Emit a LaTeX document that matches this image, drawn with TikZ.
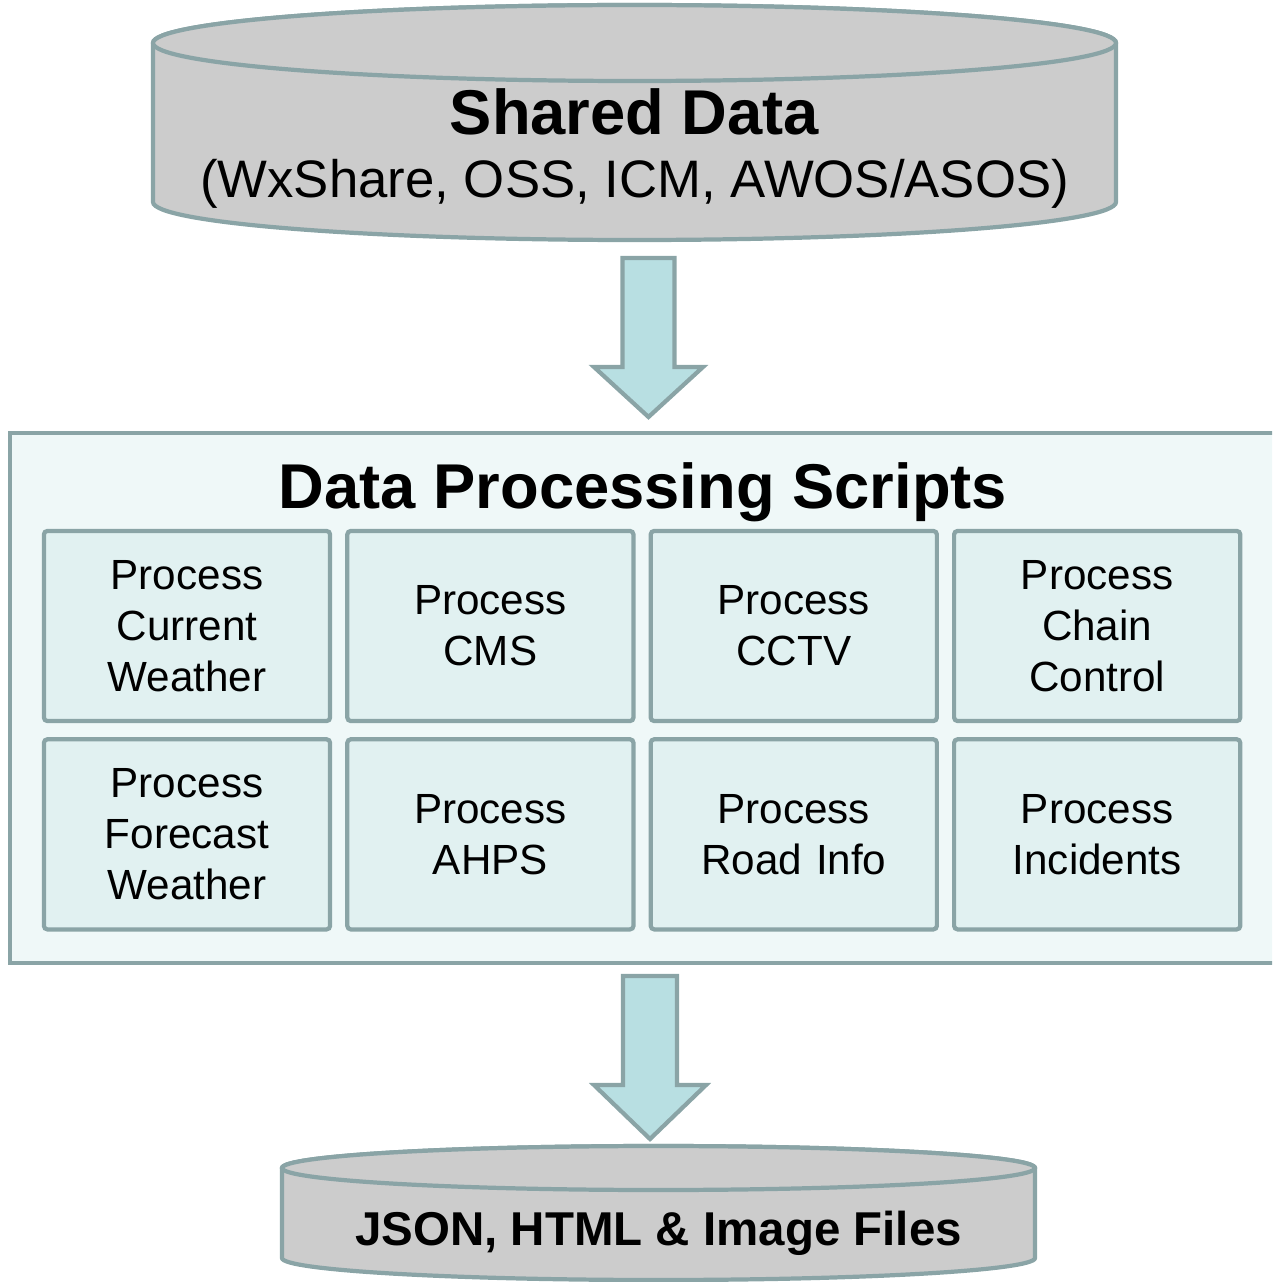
\documentclass[tikz,border=0pt]{standalone}
\usepackage{fontspec}
\setmainfont{Liberation Sans}
\usetikzlibrary{positioning}
\definecolor{rim}{HTML}{8AA4A6}
\definecolor{drumgray}{HTML}{CCCCCC}
\definecolor{arrowfill}{HTML}{B8DFE2}
\definecolor{panelfill}{HTML}{EFF8F8}
\definecolor{cellfill}{HTML}{E1F1F1}
\begin{document}
\begin{tikzpicture}[
        x=0.01cm, y=-0.01cm,
        drum/.style={draw=rim, fill=drumgray, line width=1.2pt},
        blockarrow/.style={draw=rim, fill=arrowfill, line width=1.2pt, line join=miter},
        panel/.style={draw=rim, fill=panelfill, line width=1.2pt, minimum width=12.8cm, minimum height=5.3cm},
        cell/.style={draw=rim, fill=cellfill, line width=1.2pt, rounded corners=1pt, inner sep=0pt,
            minimum width=2.86cm, minimum height=1.9cm, text width=2.6cm, align=center,
            font=\fontsize{12pt}{14.5pt}\selectfont},
        bigtitle/.style={font=\fontsize{18pt}{21pt}\selectfont\bfseries, anchor=base, inner sep=0pt},
        subtitle/.style={font=\fontsize{15pt}{18pt}\selectfont, anchor=base, inner sep=0pt},
        filestitle/.style={font=\fontsize{13.5pt}{16pt}\selectfont\bfseries, anchor=base, inner sep=0pt},
        node distance=0.14cm and 0.13cm,
    ]
    \clip (0,0) rectangle (1272,1282);

    % shared data drum
    \draw[drum] (153,43) -- (153,202) arc[start angle=180, end angle=0, x radius=481.5, y radius=38]
        -- (1116,43) arc[start angle=0, end angle=-180, x radius=481.5, y radius=38] -- cycle;
    \draw[drum] (634.5,43) ellipse[x radius=481.5, y radius=38];
    \node[bigtitle] (shared) at (634.5,134.5) {Shared Data};
    \node[subtitle] (sources) at (634.5,198) {(WxShare, OSS, ICM, AWOS/ASOS)};

    % scripts panel
    \node[panel] (scripts) at (650,698) {};
    \node[bigtitle] (scriptstitle) at (643,508) {Data Processing Scripts};

    \node[cell] (current) at (187,626) {Process\\Current\\Weather};
    \node[cell, right=of current] (cms) {Process\\CMS};
    \node[cell, right=of cms] (cctv) {Process\\CCTV};
    \node[cell, right=of cctv] (chain) {Process\\Chain\\Control};
    \node[cell, below=of current] (forecast) {Process\\Forecast\\Weather};
    \node[cell, right=of forecast] (ahps) {Process\\AHPS};
    \node[cell, right=of ahps] (road) {Process\\Road Info};
    \node[cell, right=of road] (incidents) {Process\\Incidents};

    % output drum
    \draw[drum] (282,1168) -- (282,1258) arc[start angle=180, end angle=0, x radius=376.5, y radius=22]
        -- (1035,1168) arc[start angle=0, end angle=-180, x radius=376.5, y radius=22] -- cycle;
    \draw[drum] (658.5,1168) ellipse[x radius=376.5, y radius=22];
    \node[filestitle] (files) at (658.5,1245) {JSON, HTML \& Image Files};

    % block arrows
    \coordinate (in) at (648.5,258);
    \coordinate (out) at (650,976);
    \draw[blockarrow] (in) ++(-26,0) -- ++(52,0) -- ++(0,109) -- ++(28.5,0) -- ++(-54.5,50)
        -- ++(-54.5,-50) -- ++(28.5,0) -- cycle;
    \draw[blockarrow] (out) ++(-27,0) -- ++(54,0) -- ++(0,109) -- ++(29,0) -- ++(-56,54)
        -- ++(-56,-54) -- ++(29,0) -- cycle;
\end{tikzpicture}
\end{document}
